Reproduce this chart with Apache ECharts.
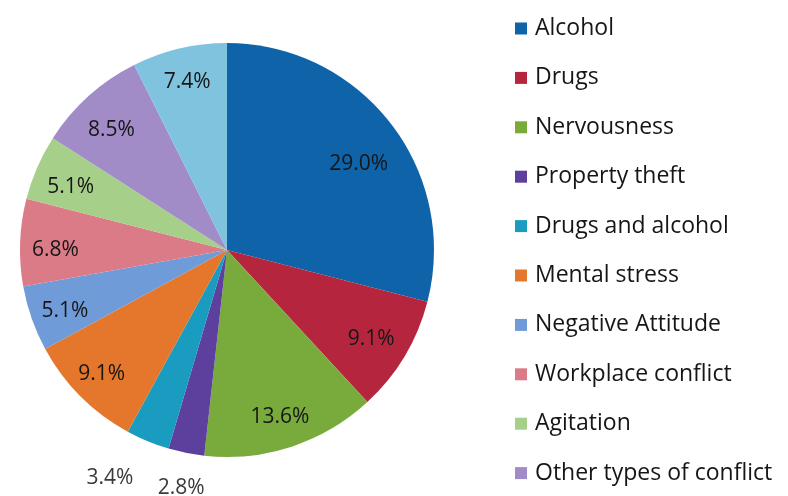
<!DOCTYPE html>
<html>
<head>
<meta charset="utf-8">
<script src="https://cdn.jsdelivr.net/npm/echarts@6/dist/echarts.min.js"></script>
<style>
  html, body { margin: 0; padding: 0; background: #ffffff; }
  #chart { width: 788px; height: 496px; }
</style>
</head>
<body>
<div id="chart"></div>
<script>
// Causes of conflict, share of responses (%)
const categories = [
  'Alcohol', 'Drugs', 'Nervousness', 'Property theft', 'Drugs and alcohol',
  'Mental stress', 'Negative Attitude', 'Workplace conflict', 'Agitation',
  'Other types of conflict', 'Other'
];
const shares = [29.0, 9.1, 13.6, 2.8, 3.4, 9.1, 5.1, 6.8, 5.1, 8.5, 7.4];
const legendItems = categories.slice(0, 10);
const sliceColors = [
  '#0f63a8', '#b5263e', '#79aa3c', '#5d3f9e', '#1a9cc0',
  '#e4772b', '#6f9cd8', '#dc7b88', '#a6cf8a', '#a18cc8', '#80c3df'
];
// thin slices whose labels sit outside the rim
const outsideLabels = ['Property theft', 'Drugs and alcohol'];

const CENTER = [227, 250];
const R = 207;
const FONT = '"Open Sans", Lato, sans-serif';
const fmt = p => p.value.toFixed(1) + '%';

// small nudges for labels that sit off the common label ring
const labelNudge = {
  'Alcohol': [-5, 20],
  'Drugs': [-4, 0],
  'Nervousness': [-1, 3],
  'Mental stress': [-3, 2],
  'Negative Attitude': [1, 4],
  'Workplace conflict': [1, 6],
  'Agitation': [2, 6],
  'Other types of conflict': [0, 8],
  'Drugs and alcohol': [-24, 3],
  'Property theft': [2, 0]
};

const baseData = categories.map((name, i) => ({
  name, value: shares[i], itemStyle: { color: sliceColors[i] }
}));

const innerLabelData = categories.map((name, i) => ({
  name, value: shares[i],
  label: { show: !outsideLabels.includes(name), offset: labelNudge[name] || [0, 0] }
}));

const outerLabelData = categories.map((name, i) => ({
  name, value: shares[i],
  label: { show: outsideLabels.includes(name), offset: labelNudge[name] || [0, 0] }
}));

const chart = echarts.init(document.getElementById('chart'));
chart.setOption({
  animation: false,
  color: sliceColors,
  legend: {
    orient: 'vertical',
    left: 515,
    top: 17,
    padding: 0,
    data: legendItems,
    icon: 'rect',
    itemWidth: 12,
    itemHeight: 12,
    itemGap: 26.4,
    selectedMode: false,
    textStyle: {
      fontFamily: FONT,
      fontSize: 23,
      color: '#161616',
      lineHeight: 23,
      padding: [0, 0, 0, 3]
    }
  },
  series: [
    {
      type: 'pie',
      center: CENTER,
      radius: [0, R],
      startAngle: 90,
      clockwise: true,
      data: baseData,
      label: { show: false },
      labelLine: { show: false },
      itemStyle: { borderWidth: 0 },
      silent: true
    },
    {
      // transparent ring carrying the in-slice percentage labels
      type: 'pie',
      center: CENTER,
      radius: [R * 0.64, R],
      startAngle: 90,
      clockwise: true,
      data: innerLabelData,
      itemStyle: { color: 'rgba(0,0,0,0)' },
      labelLine: { show: false },
      label: {
        position: 'inside',
        formatter: fmt,
        fontFamily: FONT,
        fontSize: 21,
        color: '#161616'
      },
      silent: true
    },
    {
      // transparent ring beyond the rim for the thin-slice labels
      type: 'pie',
      center: CENTER,
      radius: [R * 1.03, R * 1.29],
      startAngle: 90,
      clockwise: true,
      data: outerLabelData,
      itemStyle: { color: 'rgba(0,0,0,0)' },
      labelLine: { show: false },
      label: {
        position: 'inside',
        formatter: fmt,
        fontFamily: FONT,
        fontSize: 21,
        color: '#3a3a3a'
      },
      silent: true
    }
  ]
});
</script>
</body>
</html>
